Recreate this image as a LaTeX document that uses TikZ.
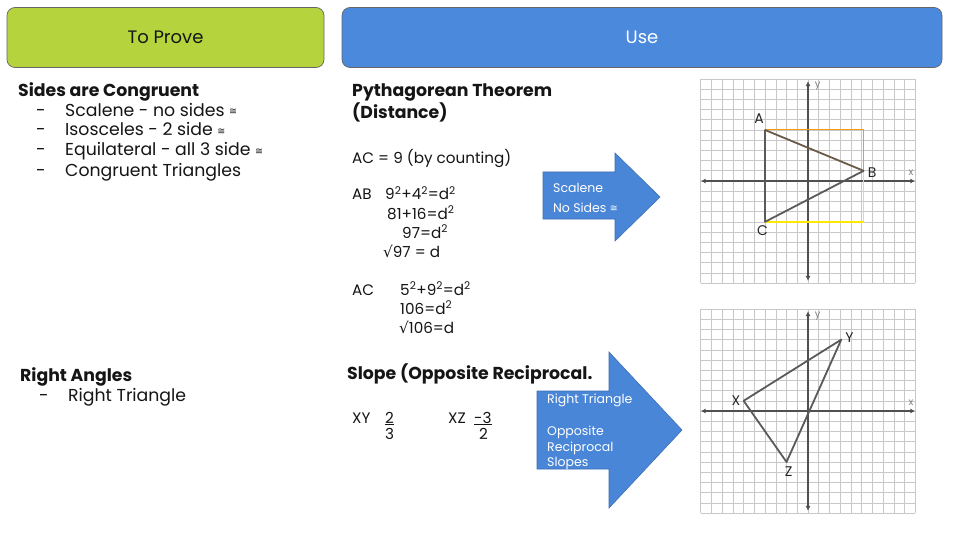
\documentclass[tikz,border=0pt]{standalone}
\usepackage{fontspec}
\setmainfont{Poppins}
\newfontfamily\symf{DejaVu Sans}
\usetikzlibrary{arrows.meta}
\definecolor{hdrgreen}{HTML}{B5D33D}
\definecolor{hdrblue}{HTML}{4A89DC}
\definecolor{arrblue}{HTML}{4A86D8}
\definecolor{arrborder}{HTML}{3C6FB5}
\definecolor{gridgray}{HTML}{C8C8C8}
\definecolor{axisgray}{HTML}{505050}
\definecolor{trigray}{HTML}{5A5A5A}
\definecolor{hypbrown}{HTML}{6A5A48}
\definecolor{legorange}{HTML}{F39C12}
\definecolor{legyellow}{HTML}{FFE800}
\definecolor{txtblack}{HTML}{151515}
\newcommand{\cg}{{\symf\fontsize{9.5}{9.5}\selectfont\raisebox{1.5pt}{≅}}}
\newcommand{\rt}{{\symf √}}
\newcommand{\sq}{\textsuperscript{2}}
\tikzset{
  hdrbox/.style={draw=black!60, line width=0.7pt, rounded corners=8pt, minimum height=60pt, inner sep=0pt, font=\fontsize{18}{21}\selectfont},
  hd/.style={anchor=base west, inner sep=0pt, text=txtblack, font=\bfseries\fontsize{17.3}{20}\selectfont},
  txt/.style={anchor=base west, inner sep=0pt, text=txtblack, font=\fontsize{17.3}{20}\selectfont},
  mth/.style={anchor=base west, inner sep=0pt, text=txtblack, font=\fontsize{15.2}{18}\selectfont},
  arrtxt/.style={anchor=base west, inner sep=0pt, text=white, font=\fontsize{12.5}{15}\selectfont},
  arrshape/.style={fill=arrblue, draw=arrborder, line width=0.6pt, line join=miter},
  gridln/.style={gridgray, line width=0.6pt},
  axisln/.style={axisgray, line width=1.2pt, {Latex[length=5pt,width=5pt]}-{Latex[length=5pt,width=5pt]}},
  triln/.style={trigray, line width=1.8pt, line join=round},
  ptlabel/.style={inner sep=1pt, text=black!85, font=\fontsize{14}{16}\selectfont},
  axlabel/.style={inner sep=0pt, text=black!50, font=\fontsize{10}{12}\selectfont}
}
\begin{document}
\begin{tikzpicture}[x=1pt,y=-1pt]
\useasboundingbox (0,0) rectangle (960,540);
\fill[white] (0,0) rectangle (960,540);
% headers
\node[hdrbox, fill=hdrgreen, minimum width=317pt, text=txtblack] (prove) at (165.5,37.5) {To Prove};
\node[hdrbox, fill=hdrblue, minimum width=600pt, text=white] (use) at (642,37.5) {Use};
% left column
\node[hd] (sides) at (18,96.5) {Sides are Congruent};
\node[txt] (b1) at (36,116.5) {-};
\node[txt] (l1) at (65,116.5) {Scalene - no sides \cg};
\node[txt] (b2) at (36,136) {-};
\node[txt] (l2) at (65,136) {Isosceles - 2 side \cg};
\node[txt] (b3) at (36,156) {-};
\node[txt] (l3) at (65,156) {Equilateral - all 3 side \cg};
\node[txt] (b4) at (36,176) {-};
\node[txt] (l4) at (65,176) {Congruent Triangles};
\node[hd] (right) at (20,381) {Right Angles};
\node[txt] (b5) at (39,401) {-};
\node[txt] (l5) at (68,401) {Right Triangle};
% middle column
\node[hd] (pyth) at (352,97) {Pythagorean Theorem};
\node[hd] (dist) at (352,119) {(Distance)};
\node[mth] (m1) at (352,164) {AC = 9 (by counting)};
\node[mth] (m2) at (352,200) {AB};
\node[mth] (m3) at (385,200) {9\sq+4\sq=d\sq};
\node[mth] (m4) at (387,219) {81+16=d\sq};
\node[mth] (m5) at (402,238) {97=d\sq};
\node[mth] (m6) at (383,257) {\rt97 = d};
\node[mth] (m7) at (352,295) {AC};
\node[mth] (m8) at (400,295) {5\sq+9\sq=d\sq};
\node[mth] (m9) at (400,314) {106=d\sq};
\node[mth] (m10) at (399,333) {\rt106=d};
\node[hd] (slope) at (347,379) {Slope (Opposite Reciprocal.};
\node[mth] (xy) at (352,423) {XY};
\node[mth] (xyn) at (385,423) {\underline{2}};
\node[mth] (xyd) at (385,439) {3};
\node[mth] (xz) at (448,423) {XZ};
\node[mth] (xzn) at (474,423) {\underline{-3}};
\node[mth] (xzd) at (479,439) {2};
% arrows
\draw[arrshape] (543,172) -- (615,172) -- (615,153) -- (660,197) -- (615,241) -- (615,219) -- (543,219) -- cycle;
\node[arrtxt] (a1) at (553,192) {Scalene};
\node[arrtxt] (a2) at (553,212.5) {No Sides \cg};
\draw[arrshape] (537,391) -- (609,391) -- (609,352) -- (682,430) -- (609,508) -- (609,469) -- (537,469) -- cycle;
\node[arrtxt] (a3) at (547,403) {Right Triangle};
\node[arrtxt] (a4) at (547,435) {Opposite};
\node[arrtxt] (a5) at (547,451) {Reciprocal};
\node[arrtxt] (a6) at (547,466.5) {Slopes};
% graph 1
\begin{scope}[xshift=808pt, yshift=-181pt, x=10.73pt, y=10.2pt]
  \fill[white] (-10,-10) rectangle (10,10);
  \draw[gridln, step=1] (-10,-10) grid (10,10);
  \coordinate (xl) at (-10,0); \coordinate (xr) at (10,0);
  \coordinate (yb) at (0,-9.8); \coordinate (yt) at (0,9.8);
  \draw[axisln] (xl) -- (xr);
  \draw[axisln] (yb) -- (yt);
  \node[axlabel] (xlab) at (9.6,0.8) {x};
  \node[axlabel] (ylab) at (0.9,9.3) {y};
  \coordinate (A) at (-4,5); \coordinate (B) at (5.18,1); \coordinate (C) at (-4,-4);
  \coordinate (Aq) at (5.18,5); \coordinate (Cq) at (5.18,-4);
  \draw[legorange, line width=1pt] (A) -- (Aq) -- (B);
  \draw[legyellow, line width=1.4pt] (C) -- (Cq) -- (B);
  \draw[triln] (A) -- (C) -- (B);
  \draw[hypbrown, line width=1.8pt, line cap=round] (A) -- (B);
  \node[ptlabel, anchor=south east] (Al) at ([yshift=5pt]A) {A};
  \node[ptlabel, anchor=west] (Bl) at ([xshift=3pt,yshift=-2pt]B) {B};
  \node[ptlabel, anchor=north east] (Cl) at ([xshift=4pt,yshift=-3pt]C) {C};
\end{scope}
% graph 2
\begin{scope}[xshift=808pt, yshift=-411pt, x=10.73pt, y=10.2pt]
  \fill[white] (-10,-10) rectangle (10,10);
  \draw[gridln, step=1] (-10,-10) grid (10,10);
  \coordinate (xl2) at (-10,0); \coordinate (xr2) at (10,0);
  \coordinate (yb2) at (0,-9.8); \coordinate (yt2) at (0,9.8);
  \draw[axisln] (xl2) -- (xr2);
  \draw[axisln] (yb2) -- (yt2);
  \node[axlabel] (xlab2) at (9.6,0.8) {x};
  \node[axlabel] (ylab2) at (0.9,9.3) {y};
  \coordinate (X) at (-6,1); \coordinate (Y) at (3.1,7); \coordinate (Z) at (-2,-5);
  \draw[triln] (X) -- (Y) -- (Z) -- cycle;
  \node[ptlabel, anchor=east] (Xl) at ([xshift=-2pt]X) {X};
  \node[ptlabel, anchor=west] (Yl) at ([xshift=3pt,yshift=2pt]Y) {Y};
  \node[ptlabel, anchor=north] (Zl) at ([xshift=2pt,yshift=-4pt]Z) {Z};
\end{scope}
\end{tikzpicture}
\end{document}
